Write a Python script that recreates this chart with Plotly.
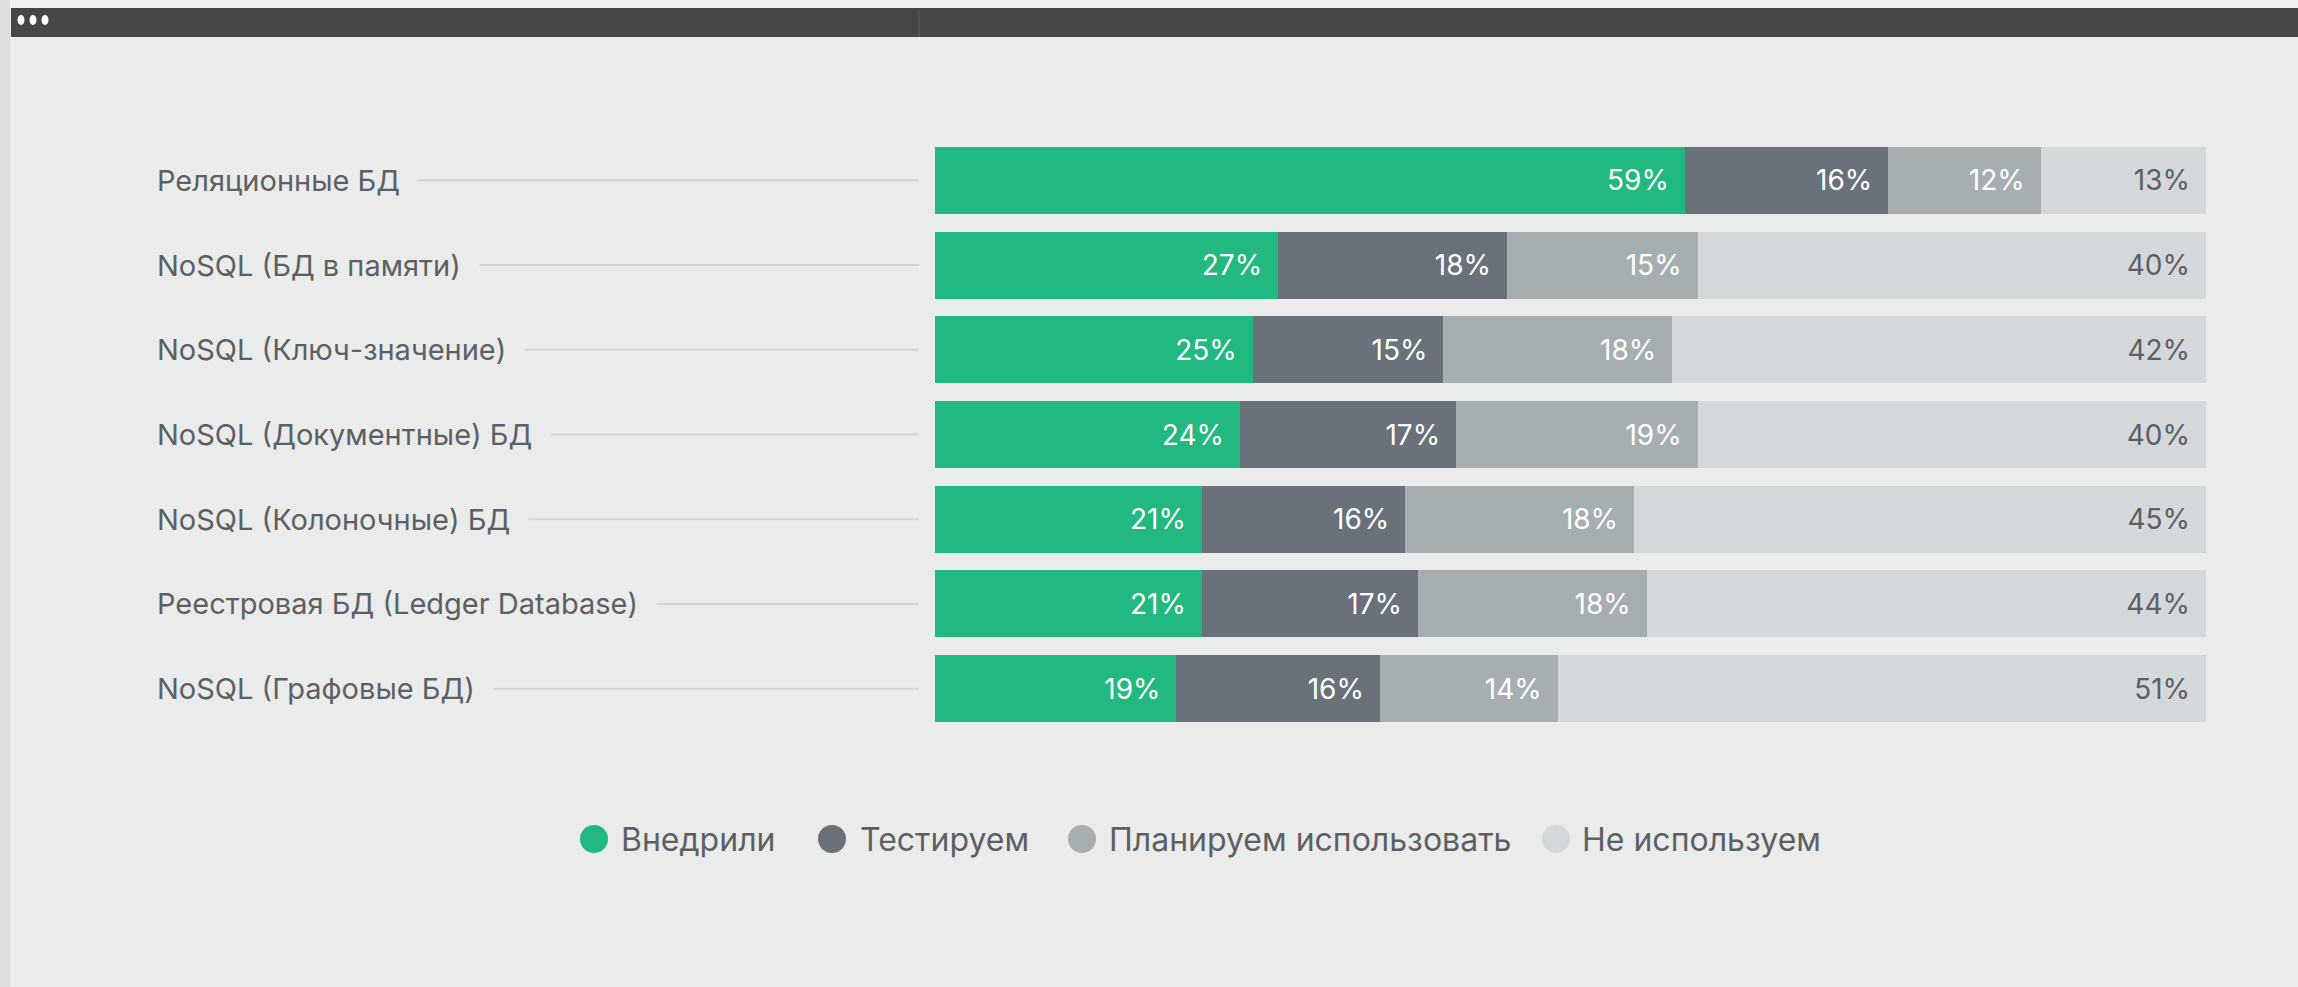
import plotly.graph_objects as go

# ── Data ──────────────────────────────────────────────────────────────────────
categories = [
    "Реляционные БД",
    "NoSQL (БД в памяти)",
    "NoSQL (Ключ-значение)",
    "NoSQL (Документные) БД",
    "NoSQL (Колоночные) БД",
    "Реестровая БД (Ledger Database)",
    "NoSQL (Графовые БД)",
]
series_names = ["Внедрили", "Тестируем", "Планируем использовать", "Не используем"]
implemented = [59, 27, 25, 24, 21, 21, 19]
testing = [16, 18, 15, 17, 16, 17, 16]
planning = [12, 15, 18, 19, 18, 18, 14]
not_used = [13, 40, 42, 40, 45, 44, 51]

# ── Style ─────────────────────────────────────────────────────────────────────
COLORS = ["#21b97f", "#69717a", "#a7aeb1", "#d4d8db"]
TEXT_COLORS = ["#ffffff", "#ffffff", "#ffffff", "#5b5f63"]
BG = "#eaebeb"
LABEL_COLOR = "#5d6063"
FONT = "Inter"

W, H = 2298, 987
M = dict(l=935, r=92, t=138, b=256)
PW = W - M["l"] - M["r"]
PH = H - M["t"] - M["b"]

# custom legend: marker centre / text start (px), vertical centre
LEGEND_MARK_X = [594, 832, 1082, 1556]
LEGEND_TEXT_X = [619, 858, 1107, 1580]
LEGEND_Y = 839


def px_x(p):
    """pixel column -> paper x"""
    return (p - M["l"]) / PW


def px_y(p):
    """pixel row (from top) -> paper y"""
    return (H - M["b"] - p) / PH


fig = go.Figure()

for name, vals, col, tcol in zip(series_names, [implemented, testing, planning, not_used],
                                 COLORS, TEXT_COLORS):
    fig.add_trace(go.Bar(
        x=vals,
        y=categories,
        orientation="h",
        name=name,
        marker=dict(color=col, line=dict(width=0)),
        text=[f"{v}%\u00a0\u2009" for v in vals],
        textposition="inside",
        insidetextanchor="end",
        constraintext="none",
        textfont=dict(family=FONT, size=28, color=tcol),
        hoverinfo="skip",
        showlegend=False,
    ))

shapes = []
annotations = []
for i, cat in enumerate(categories):
    # connector line, covered on the left by the label background
    shapes.append(dict(
        type="line", xref="paper", yref="y",
        x0=px_x(140), x1=px_x(919), y0=i, y1=i,
        line=dict(color="#d2d5d7", width=2), layer="below",
    ))
    annotations.append(dict(
        text=cat, xref="paper", yref="y", x=px_x(138), y=i,
        xanchor="left", yanchor="middle", showarrow=False,
        font=dict(family=FONT, size=29, color=LABEL_COLOR),
        bgcolor=BG, borderpad=18,
    ))

# legend built from circles + text (plotly caps legend marker size)
for name, col, mx, tx in zip(series_names, COLORS, LEGEND_MARK_X, LEGEND_TEXT_X):
    r = 14
    shapes.append(dict(
        type="circle", xref="paper", yref="paper",
        x0=px_x(mx - r), x1=px_x(mx + r), y0=px_y(LEGEND_Y + r), y1=px_y(LEGEND_Y - r),
        fillcolor=col, line=dict(width=0),
    ))
    annotations.append(dict(
        text=name, xref="paper", yref="paper", x=px_x(tx), y=px_y(LEGEND_Y),
        xanchor="left", yanchor="middle", showarrow=False,
        font=dict(family=FONT, size=32, color=LABEL_COLOR),
    ))

# window chrome
shapes += [
    dict(type="rect", xref="paper", yref="paper", x0=px_x(0), x1=px_x(W),
         y0=px_y(0), y1=px_y(8), fillcolor="#f2f2f2", line=dict(width=0), layer="below"),
    dict(type="rect", xref="paper", yref="paper", x0=px_x(0), x1=px_x(10),
         y0=px_y(0), y1=px_y(H), fillcolor="#dedede", line=dict(width=0), layer="below"),
    dict(type="rect", xref="paper", yref="paper", x0=px_x(11), x1=px_x(W),
         y0=px_y(8), y1=px_y(37), fillcolor="#464646", line=dict(width=0), layer="below"),
    dict(type="line", xref="paper", yref="paper", x0=px_x(919), x1=px_x(919),
         y0=px_y(10), y1=px_y(37), line=dict(color="#5e5e5e", width=1), layer="below"),
]
for cx in (21, 33, 45):
    shapes.append(dict(
        type="circle", xref="paper", yref="paper",
        x0=px_x(cx - 3.5), x1=px_x(cx + 3.5), y0=px_y(15), y1=px_y(25),
        fillcolor="#ffffff", line=dict(width=0),
    ))

fig.update_layout(
    width=W, height=H,
    margin=M,
    barmode="stack",
    bargap=0.21,
    paper_bgcolor=BG,
    plot_bgcolor=BG,
    font=dict(family=FONT, color=LABEL_COLOR),
    xaxis=dict(range=[0, 100], visible=False, fixedrange=True),
    yaxis=dict(autorange="reversed", visible=False, fixedrange=True),
    shapes=shapes,
    annotations=annotations,
    showlegend=False,
)

fig.write_html(
    "out.html",
    config={"displayModeBar": False},
    post_script="document.body.style.margin='0';",
)
